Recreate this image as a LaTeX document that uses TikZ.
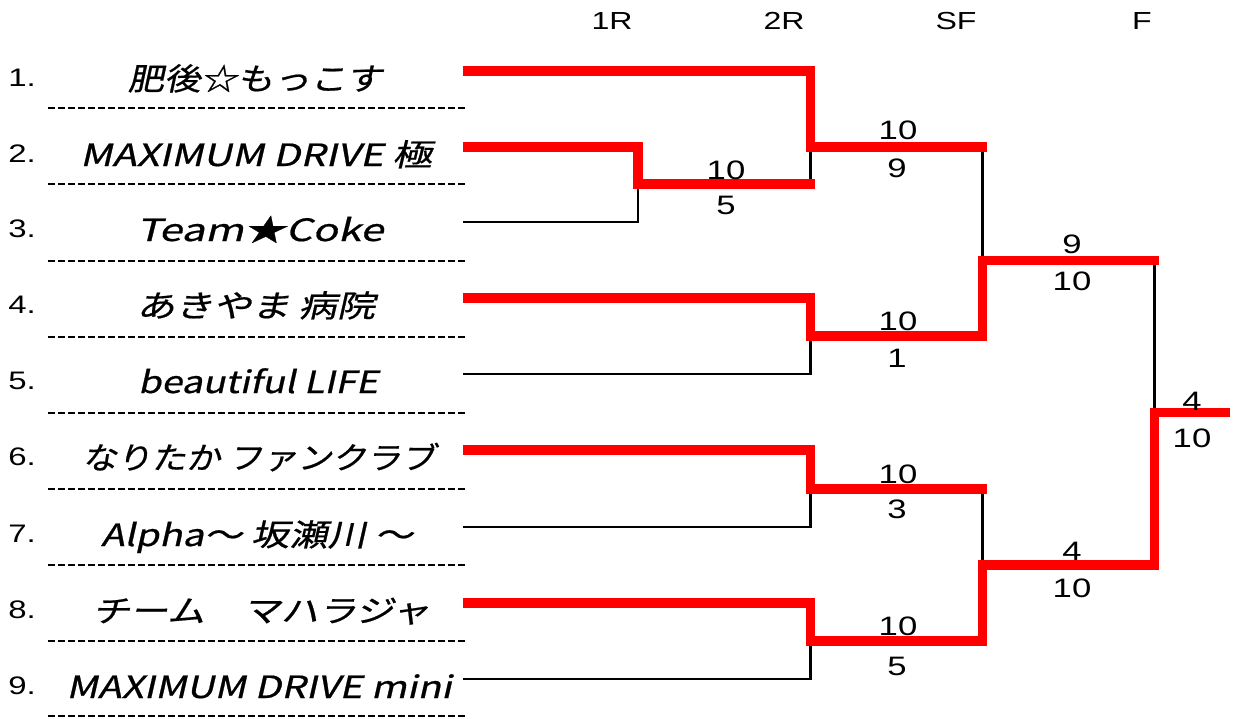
\documentclass[tikz,border=0pt]{standalone}
\usepackage{fontspec}
\usepackage{graphicx}
\setmainfont{Liberation Sans}
\newfontfamily\jp[FakeSlant=0.18,FakeBold=0.6]{Noto Sans CJK JP}
\newcommand\wtxt[1]{\scalebox{1.3}[1]{#1}}
\newcommand\tmn[2]{\resizebox{#1pt}{\height}{\jp #2}}
\definecolor{win}{RGB}{255,0,0}
\tikzset{
  teamname/.style={anchor=base, inner sep=0pt, font=\fontsize{23pt}{27pt}\selectfont},
  seed/.style={anchor=base west, inner sep=0pt, font=\fontsize{19pt}{23pt}\selectfont},
  score/.style={inner sep=0pt, font=\fontsize{20pt}{24pt}\selectfont},
  round/.style={inner sep=0pt, font=\fontsize{18.5pt}{22pt}\selectfont},
  sep/.style={line width=2.1pt, dash pattern=on 5.25pt off 2.25pt},
  lose/.style={line width=2.2pt, black},
  winpath/.style={line width=6.9pt, win, line join=miter},
}
\begin{document}
\begin{tikzpicture}[x=0.75pt, y=-0.75pt]
\useasboundingbox (0,0) rectangle (1235,718);

% headers
\node[round] (h1) at (612,21) {\wtxt{1R}};
\node[round] (h2) at (784,21) {\wtxt{2R}};
\node[round] (h3) at (956,21) {\wtxt{SF}};
\node[round] (h4) at (1142,21) {\wtxt{F}};

% seeds
\node[seed] (k1) at (8,86) {\wtxt{1.}};
\node[seed] (k2) at (8,162) {\wtxt{2.}};
\node[seed] (k3) at (8,237) {\wtxt{3.}};
\node[seed] (k4) at (8,313) {\wtxt{4.}};
\node[seed] (k5) at (8,389) {\wtxt{5.}};
\node[seed] (k6) at (8,465) {\wtxt{6.}};
\node[seed] (k7) at (8,542) {\wtxt{7.}};
\node[seed] (k8) at (8,618) {\wtxt{8.}};
\node[seed] (k9) at (8,694) {\wtxt{9.}};

% team names
\node[teamname] (n1) at (255,90) {\tmn{191}{肥後☆もっこす}};
\node[teamname] (n2) at (256,166) {\tmn{264}{MAXIMUM DRIVE 極}};
\node[teamname] (n3) at (260,241) {\tmn{185}{Team★Coke}};
\node[teamname] (n4) at (256,317) {\tmn{179}{あきやま 病院}};
\node[teamname] (n5) at (258,393) {\tmn{180}{beautiful LIFE}};
\node[teamname] (n6) at (259,469) {\tmn{265}{なりたか ファンクラブ}};
\node[teamname] (n7) at (257,546) {\tmn{234}{Alpha～ 坂瀬川 ～}};
\node[teamname] (n8) at (261,622) {\tmn{253}{チーム　マハラジャ}};
\node[teamname] (n9) at (259,698) {\tmn{289}{MAXIMUM DRIVE mini}};

% separators
\foreach \yy in {108,184,261,337,413,489,565,641,716}
  \draw[sep] (48,\yy) -- (467,\yy);

% bracket coordinates
\coordinate (t1) at (463,71);
\coordinate (t2) at (463,147);
\coordinate (t3) at (463,222);
\coordinate (t4) at (463,298);
\coordinate (t5) at (463,374);
\coordinate (t6) at (463,450);
\coordinate (t7) at (463,527);
\coordinate (t8) at (463,603);
\coordinate (t9) at (463,679);
\coordinate (q1) at (638,184);
\coordinate (q1e) at (815,184);
\coordinate (m1) at (810.5,147);
\coordinate (m1e) at (987,147);
\coordinate (m2) at (810.5,336);
\coordinate (m3) at (810.5,489);
\coordinate (m3e) at (987,489);
\coordinate (m4) at (810.5,641);
\coordinate (s1) at (982.5,260.5);
\coordinate (s1e) at (1159,260.5);
\coordinate (s2) at (982.5,565);
\coordinate (f) at (1154.5,412.5);
\coordinate (fe) at (1230,412.5);

% losing lines
\draw[lose] (t3) -| (q1);
\draw[lose] (q1 -| m1) -- (m1);
\draw[lose] (t5) -| (m2);
\draw[lose] (t7) -| (m3);
\draw[lose] (t9) -| (m4);
\draw[lose] (m1 -| s1) -- (s1);
\draw[lose] (m3 -| s2) -- (s2);
\draw[lose] (s1 -| f) -- (f);

% winning lines
\draw[winpath] (t1) -| (m1) -- (m1e);
\draw[winpath] (t2) -| (q1) -- (q1e);
\draw[winpath] (t4) -| (m2) -| (s1) -- (s1e);
\draw[winpath] (t6) -| (m3) -- (m3e);
\draw[winpath] (t8) -| (m4) -| (s2) -| (f) -- (fe);

% scores
\node[score] (a1) at (726,170) {\wtxt{10}};
\node[score] (a2) at (726,205) {\wtxt{5}};
\node[score] (b1) at (898,130) {\wtxt{10}};
\node[score] (b2) at (897,168) {\wtxt{9}};
\node[score] (c1) at (898,321) {\wtxt{10}};
\node[score] (c2) at (897,358) {\wtxt{1}};
\node[score] (d1) at (898,474) {\wtxt{10}};
\node[score] (d2) at (897,509) {\wtxt{3}};
\node[score] (e1) at (898,626) {\wtxt{10}};
\node[score] (e2) at (897,666) {\wtxt{5}};
\node[score] (g1) at (1072,244) {\wtxt{9}};
\node[score] (g2) at (1072,281) {\wtxt{10}};
\node[score] (g3) at (1072,551) {\wtxt{4}};
\node[score] (g4) at (1072,588) {\wtxt{10}};
\node[score] (z1) at (1192,401) {\wtxt{4}};
\node[score] (z2) at (1192,438) {\wtxt{10}};
\end{tikzpicture}
\end{document}
